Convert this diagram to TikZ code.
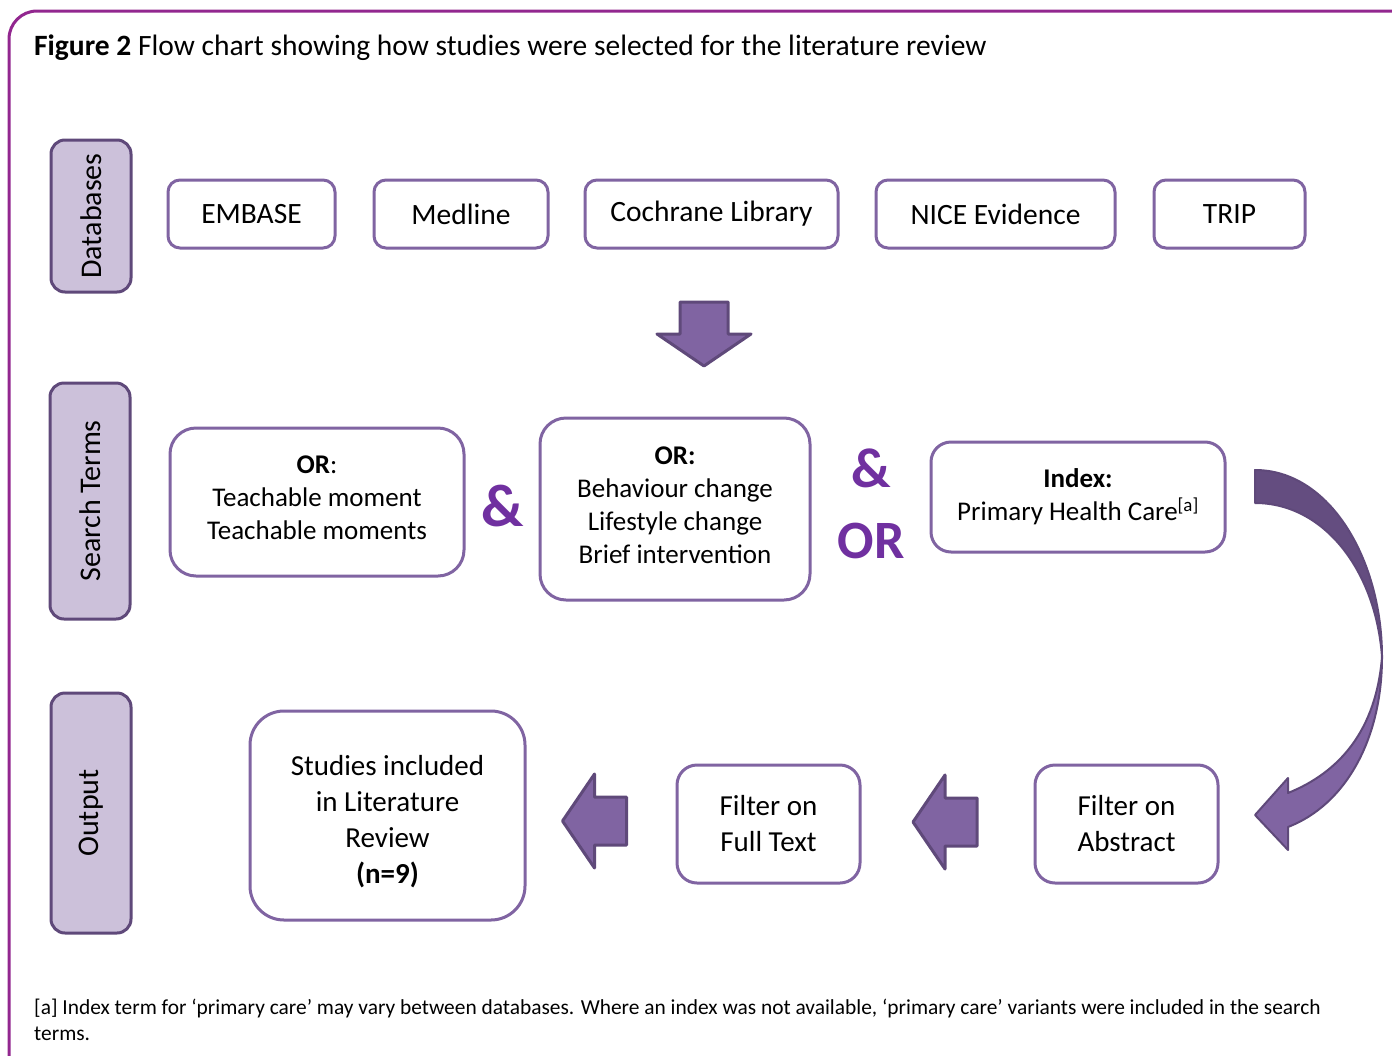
\documentclass[tikz,border=0pt]{standalone}
\usepackage{fontspec}
\setmainfont{Carlito}
\usepackage{xcolor}
\usepackage{tikz}

\definecolor{framepurple}{RGB}{146,39,143}
\definecolor{boxline}{RGB}{128,100,162}
\definecolor{labelfill}{RGB}{204,193,218}
\definecolor{labelline}{RGB}{95,73,122}
\definecolor{arrowfill}{RGB}{128,100,162}
\definecolor{arrowdark}{RGB}{100,77,128}
\definecolor{joinpurple}{RGB}{112,48,160}

\begin{document}
\begin{tikzpicture}[
  x=1pt, y=-1pt,
  every node/.style={font=\fontsize{27}{33}\selectfont},
  dbbox/.style={draw=boxline, line width=3pt, rounded corners=12pt, fill=white, minimum height=68pt, inner sep=0pt, font=\fontsize{29.5}{33}\selectfont},
  termbox/.style={draw=boxline, line width=3pt, rounded corners=26pt, fill=white, align=center, inner sep=0pt},
  outbox/.style={termbox, rounded corners=20pt, font=\fontsize{29}{36}\selectfont},
  sidelabel/.style={draw=labelline, fill=labelfill, line width=3pt, rounded corners=14pt, rotate=90, minimum height=80pt, inner sep=0pt, font=\fontsize{30}{34}\selectfont},
  joiner/.style={text=joinpurple, font=\fontsize{54}{60}\selectfont\bfseries, inner sep=0pt},
  blockarrow/.pic={\draw[draw=labelline, fill=arrowfill, line width=3pt, line join=round]
    (-32,0) -- (0,-47) -- (0,-24) -- (32,-24) -- (32,24) -- (0,24) -- (0,47) -- cycle;}
]
\useasboundingbox (0,0) rectangle (1392,1055);
\clip (0,0) rectangle (1392,1055);
\draw[framepurple, line width=3pt, rounded corners=28pt] (9,11) rectangle (1440,1100);

\node[anchor=base west, inner sep=0pt, font=\fontsize{29.5}{33}\selectfont] (title) at (34,55)
  {\textbf{Figure 2} Flow chart showing how studies were selected for the literature review};

% side labels
\node[sidelabel, minimum width=152pt] (databases) at (91,216) {Databases};
\node[sidelabel, minimum width=236pt] (searchterms) at (90,501) {Search Terms};
\node[sidelabel, minimum width=240pt] (output) at (91,813) {Output};

% databases
\node[dbbox, minimum width=167pt] (embase) at (251.5,214) {EMBASE};
\node[dbbox, minimum width=174pt] (medline) at (461,214) {Medline};
\node[dbbox, minimum width=253pt] (cochrane) at (711.5,214) {Cochrane Library};
\node[dbbox, minimum width=239pt] (nice) at (995.5,214) {NICE Evidence};
\node[dbbox, minimum width=151pt] (trip) at (1229.5,214) {TRIP};

\pic[rotate=90] at (704,334) {blockarrow};

% search terms
\node[termbox, minimum width=294pt, minimum height=148pt] (moment) at (317,502)
  {\textbf{OR}:\\Teachable moment\\Teachable moments\\[-25pt]};
\node[joiner, font=\fontsize{60}{66}\selectfont\bfseries] (and1) at (503,506) {\&};
\node[termbox, minimum width=270pt, minimum height=182pt] (change) at (675,509)
  {\textbf{OR:}\\Behaviour change\\Lifestyle change\\Brief intervention\\[-25pt]};
\node[joiner, font=\fontsize{56}{60}\selectfont\bfseries] (and2) at (871,468) {\&};
\node[joiner] (or2) at (871,541) {OR};
\node[termbox, rounded corners=20pt, minimum width=294pt, minimum height=110pt] (index) at (1078,497)
  {\textbf{Index:}\\Primary Health Care\textsuperscript{[a]}};

% curved arrow down to the filters
\draw[draw=labelline, fill=arrowdark, line width=2pt, line join=round]
  (1255,470) .. controls (1330,470) and (1382,560) .. (1382,657)
  .. controls (1376,572) and (1325,503) .. (1255,503) -- cycle;
\draw[draw=labelline, fill=arrowfill, line width=2pt, line join=round]
  (1382,657) .. controls (1382,740) and (1345,805) .. (1288,827)
  -- (1288,850) -- (1255,815) -- (1288,778) -- (1288,793)
  .. controls (1340,772) and (1376,730) .. (1382,657) -- cycle;

% output
\node[outbox, rounded corners=34pt, minimum width=275pt, minimum height=209pt] (studies) at (387.5,815.5)
  {Studies included\\in Literature\\Review\\\textbf{(n=9)}\\[-44pt]};
\node[outbox, minimum width=183pt, minimum height=118pt] (fulltext) at (768.5,824)
  {Filter on\\Full Text};
\node[outbox, minimum width=183pt, minimum height=118pt] (abstract) at (1126.5,824)
  {Filter on\\Abstract};
\pic at (594.5,821) {blockarrow};
\pic at (945,822) {blockarrow};

\node[anchor=base west, align=left, inner sep=0pt, font=\fontsize{21.4}{26}\selectfont] (note) at (34,1040)
  {[a] Index term for ‘primary care’ may vary between databases. Where an index was not available, ‘primary care’ variants were included in the search\\terms.};
\end{tikzpicture}
\end{document}
